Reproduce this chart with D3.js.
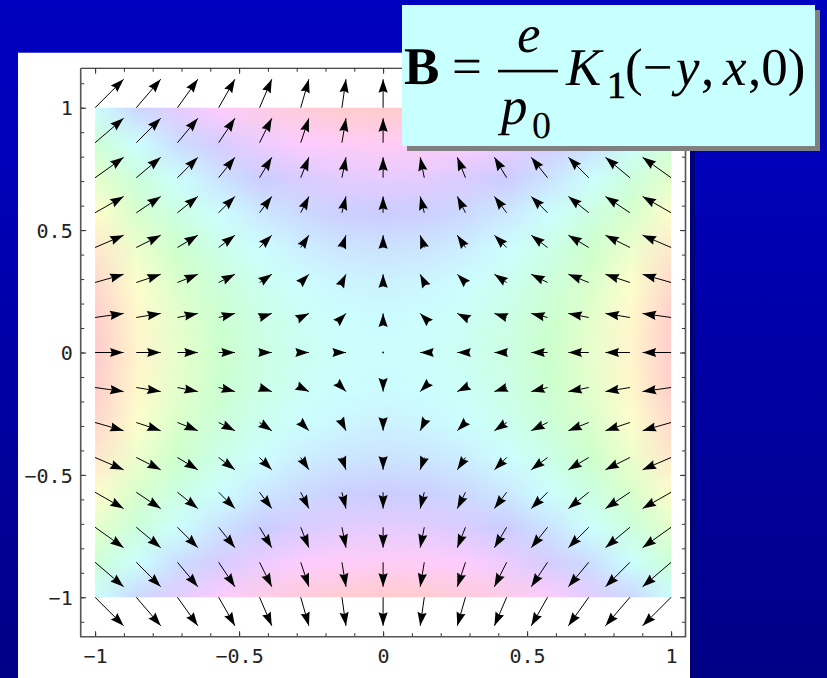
<!DOCTYPE html>
<html>
<head>
<meta charset="utf-8">
<script src="https://cdn.jsdelivr.net/npm/d3@7"></script>
<style>
  html, body { margin: 0; padding: 0; overflow: hidden; }
  svg { display: block; }
  .eq text, .eq tspan { fill: #000; text-rendering: geometricPrecision; }
  .eq .sub1 { stroke: #000; stroke-width: 0.7px; }
</style>
</head>
<body>
<div id="chart"></div>
<script>
// grid of sample points (15 x 15, step 1/7)
const gridX = [-1, -0.857, -0.714, -0.571, -0.429, -0.286, -0.143, 0, 0.143, 0.286, 0.429, 0.571, 0.714, 0.857, 1];
const gridY = [-1, -0.857, -0.714, -0.571, -0.429, -0.286, -0.143, 0, 0.143, 0.286, 0.429, 0.571, 0.714, 0.857, 1];

// field components: horizontal part depends on the column, vertical part on the row
const colU = [1, 0.857, 0.714, 0.571, 0.429, 0.286, 0.143, 0, -0.143, -0.286, -0.429, -0.571, -0.714, -0.857, -1];
const rowV = [-1, -0.857, -0.714, -0.571, -0.429, -0.286, -0.143, 0, 0.143, 0.286, 0.429, 0.571, 0.714, 0.857, 1];

// background hue, read as a column part plus a row part
const hueX = [-0.5, -0.367, -0.255, -0.163, -0.092, -0.041, -0.01, 0, -0.01, -0.041, -0.092, -0.163, -0.255, -0.367, -0.5];
const hueY = [1, 0.867, 0.755, 0.663, 0.592, 0.541, 0.51, 0.5, 0.51, 0.541, 0.592, 0.663, 0.755, 0.867, 1];

const xTicks = [-1, -0.5, 0, 0.5, 1];
const xTickLabels = ["\u22121", "\u22120.5", "0", "0.5", "1"];
const yTicks = [-1, -0.5, 0, 0.5, 1];
const yTickLabels = ["\u22121", "\u22120.5", "0", "0.5", "1"];
const xMinor = [-1, -0.9, -0.8, -0.7, -0.6, -0.5, -0.4, -0.3, -0.2, -0.1, 0, 0.1, 0.2, 0.3, 0.4, 0.5, 0.6, 0.7, 0.8, 0.9, 1];
const yMinor = [-1.1, -1, -0.9, -0.8, -0.7, -0.6, -0.5, -0.4, -0.3, -0.2, -0.1, 0, 0.1, 0.2, 0.3, 0.4, 0.5, 0.6, 0.7, 0.8, 0.9, 1, 1.1];

const width = 827, height = 678;
const frame = { left: 80.7, right: 685.5, top: 68.3, bottom: 636.7 };

const svg = d3.select("#chart").append("svg")
  .attr("width", width)
  .attr("height", height);

const defs = svg.append("defs");
const bg = defs.append("linearGradient")
  .attr("id", "bg")
  .attr("x1", 0).attr("y1", 0).attr("x2", 0).attr("y2", 1);
bg.append("stop").attr("offset", "0%").attr("stop-color", "#0000c0");
bg.append("stop").attr("offset", "25%").attr("stop-color", "#0000b8");
bg.append("stop").attr("offset", "100%").attr("stop-color", "#000086");

svg.append("rect")
  .attr("width", width).attr("height", height)
  .attr("fill", "url(#bg)");

// white panel with a dark edge on the right
svg.append("rect")
  .attr("x", 690).attr("y", 57).attr("width", 5).attr("height", height - 57)
  .attr("fill", "#00007a");
svg.append("rect")
  .attr("x", 18).attr("y", 52.7).attr("width", 672).attr("height", height - 52.7)
  .attr("fill", "#ffffff");

const x = d3.scaleLinear().domain([-1.05, 1.05]).range([frame.left, frame.right]);
const y = d3.scaleLinear().domain([-1.161, 1.161]).range([frame.bottom, frame.top]);
const len = d3.scaleLinear().domain([0, 1]).range([0, 28.5]);

// density background: one pixel per grid point, smoothed when scaled up
const n = gridX.length;
const canvas = document.createElement("canvas");
canvas.width = n;
canvas.height = n;
const ctx = canvas.getContext("2d");
const img = ctx.createImageData(n, n);
for (let j = 0; j < n; j++) {
  for (let i = 0; i < n; i++) {
    const h = hueX[i] + hueY[j];
    const c = d3.rgb(d3.hsl(h * 360, 1, 0.9));
    const row = n - 1 - j; // top row of the image is y = 1
    const k = (row * n + i) * 4;
    img.data[k] = c.r;
    img.data[k + 1] = c.g;
    img.data[k + 2] = c.b;
    img.data[k + 3] = 255;
  }
}
ctx.putImageData(img, 0, 0);

const half = 1 / 14;
defs.append("clipPath").attr("id", "dens")
  .append("rect")
  .attr("x", x(-1)).attr("y", y(1))
  .attr("width", x(1) - x(-1)).attr("height", y(-1) - y(1));

svg.append("image")
  .attr("clip-path", "url(#dens)")
  .attr("href", canvas.toDataURL())
  .attr("x", x(-1 - half))
  .attr("y", y(1 + half))
  .attr("width", x(1 + half) - x(-1 - half))
  .attr("height", y(-1 - half) - y(1 + half))
  .attr("preserveAspectRatio", "none")
  .style("image-rendering", "auto");

// ticks (pointing inward on all four sides)
function ticks(axis, values, size, transform) {
  const g = svg.append("g")
    .attr("transform", transform)
    .call(axis.tickValues(values).tickSize(-size).tickFormat(""));
  g.select(".domain").remove();
  g.selectAll(".tick line").attr("stroke", "#333").attr("stroke-width", 1);
  return g;
}
ticks(d3.axisBottom(x), xMinor, 3.5, `translate(0,${frame.bottom})`);
ticks(d3.axisTop(x), xMinor, 3.5, `translate(0,${frame.top})`);
ticks(d3.axisLeft(y), yMinor, 3.5, `translate(${frame.left},0)`);
ticks(d3.axisRight(y), yMinor, 3.5, `translate(${frame.right},0)`);
ticks(d3.axisBottom(x), xTicks, 5.5, `translate(0,${frame.bottom})`);
ticks(d3.axisTop(x), xTicks, 5.5, `translate(0,${frame.top})`);
ticks(d3.axisLeft(y), yTicks, 5.5, `translate(${frame.left},0)`);
ticks(d3.axisRight(y), yTicks, 5.5, `translate(${frame.right},0)`);

// tick labels
const xLab = svg.append("g")
  .attr("transform", `translate(0,${frame.bottom})`)
  .call(d3.axisBottom(x).tickValues(xTicks).tickSize(0).tickPadding(12)
    .tickFormat((d, i) => xTickLabels[i]));
xLab.select(".domain").remove();
xLab.selectAll("text")
  .attr("font-family", "'DejaVu Sans Mono', monospace")
  .attr("font-size", 20)
  .attr("fill", "#222");

const yLab = svg.append("g")
  .attr("transform", `translate(${frame.left},0)`)
  .call(d3.axisLeft(y).tickValues(yTicks).tickSize(0).tickPadding(8)
    .tickFormat((d, i) => yTickLabels[i]));
yLab.select(".domain").remove();
yLab.selectAll("text")
  .attr("font-family", "'DejaVu Sans Mono', monospace")
  .attr("font-size", 20)
  .attr("dy", "0.36em")
  .attr("fill", "#222");

// frame
svg.append("line")
  .attr("x1", frame.left).attr("x2", frame.right)
  .attr("y1", frame.top).attr("y2", frame.top)
  .attr("stroke", "#111").attr("stroke-width", 1.1);
svg.append("path")
  .attr("d", `M${frame.left},${frame.top}V${frame.bottom}H${frame.right}V${frame.top}`)
  .attr("fill", "none")
  .attr("stroke", "#555")
  .attr("stroke-width", 1.6);

// arrows
const arrows = [];
gridX.forEach((gx, i) => {
  gridY.forEach((gy, j) => {
    arrows.push({ gx, gy, u: colU[i], v: rowV[j] });
  });
});

const headLen = 13.5, headHalf = 4.6, notch = 0.88;
const ag = svg.append("g");
arrows.forEach(a => {
  const x0 = x(a.gx), y0 = y(a.gy);
  const dx = len(a.u), dy = -len(a.v);
  const m = Math.hypot(dx, dy);
  if (m < 0.5) {
    ag.append("rect")
      .attr("x", x0 - 0.8).attr("y", y0 - 0.8)
      .attr("width", 1.6).attr("height", 1.6)
      .attr("fill", "#000");
    return;
  }
  const x1 = x0 + dx, y1 = y0 + dy;
  const ux = dx / m, uy = dy / m;
  const nx = -uy, ny = ux;
  ag.append("line")
    .attr("x1", x0).attr("y1", y0)
    .attr("x2", x1).attr("y2", y1)
    .attr("stroke", "#000")
    .attr("stroke-width", 1);
  const bx = x1 - headLen * ux, by = y1 - headLen * uy;
  const cx = x1 - notch * headLen * ux, cy = y1 - notch * headLen * uy;
  ag.append("path")
    .attr("d", `M${x1},${y1}L${bx + headHalf * nx},${by + headHalf * ny}L${cx},${cy}L${bx - headHalf * nx},${by - headHalf * ny}Z`)
    .attr("fill", "#000");
});

// formula box
svg.append("rect")
  .attr("x", 407).attr("y", 10).attr("width", 413).attr("height", 141)
  .attr("fill", "#808080");
svg.append("rect")
  .attr("x", 402).attr("y", 5).attr("width", 413).attr("height", 141)
  .attr("fill", "#c8ffff");

const eq = svg.append("g")
  .attr("class", "eq")
  .attr("font-family", "'Liberation Serif', 'Times New Roman', serif")
  .attr("fill", "#000");

const big = 53, sub = 38;
eq.append("text").attr("x", 404).attr("y", 84)
  .attr("font-size", big).attr("font-weight", "bold").text("B");
eq.append("text").attr("x", 452).attr("y", 84)
  .attr("font-size", big).text("=");
eq.append("text").attr("x", 517).attr("y", 52)
  .attr("font-size", big).attr("font-style", "italic").text("e");

const pz = eq.append("text").attr("x", 501).attr("y", 124).attr("font-size", big);
pz.append("tspan").attr("font-style", "italic").text("p");
pz.append("tspan").attr("x", 532).attr("y", 138).attr("font-size", sub).text("0");

const kt = eq.append("text").attr("x", 566).attr("y", 85).attr("font-size", big);
kt.append("tspan").attr("font-style", "italic").text("K");
kt.append("tspan").attr("class", "sub1").attr("x", 607).attr("y", 98).attr("font-size", sub).text("1");
kt.append("tspan").attr("x", 625).attr("y", 85).text("(\u2212");
kt.append("tspan").attr("x", 676).attr("font-style", "italic").text("y");
kt.append("tspan").attr("x", 701).text(",");
kt.append("tspan").attr("x", 723).attr("font-style", "italic").text("x");
kt.append("tspan").attr("x", 748).text(",0)");

eq.append("rect")
  .attr("x", 498).attr("y", 69.8).attr("width", 60).attr("height", 2.6);
</script>
</body>
</html>
